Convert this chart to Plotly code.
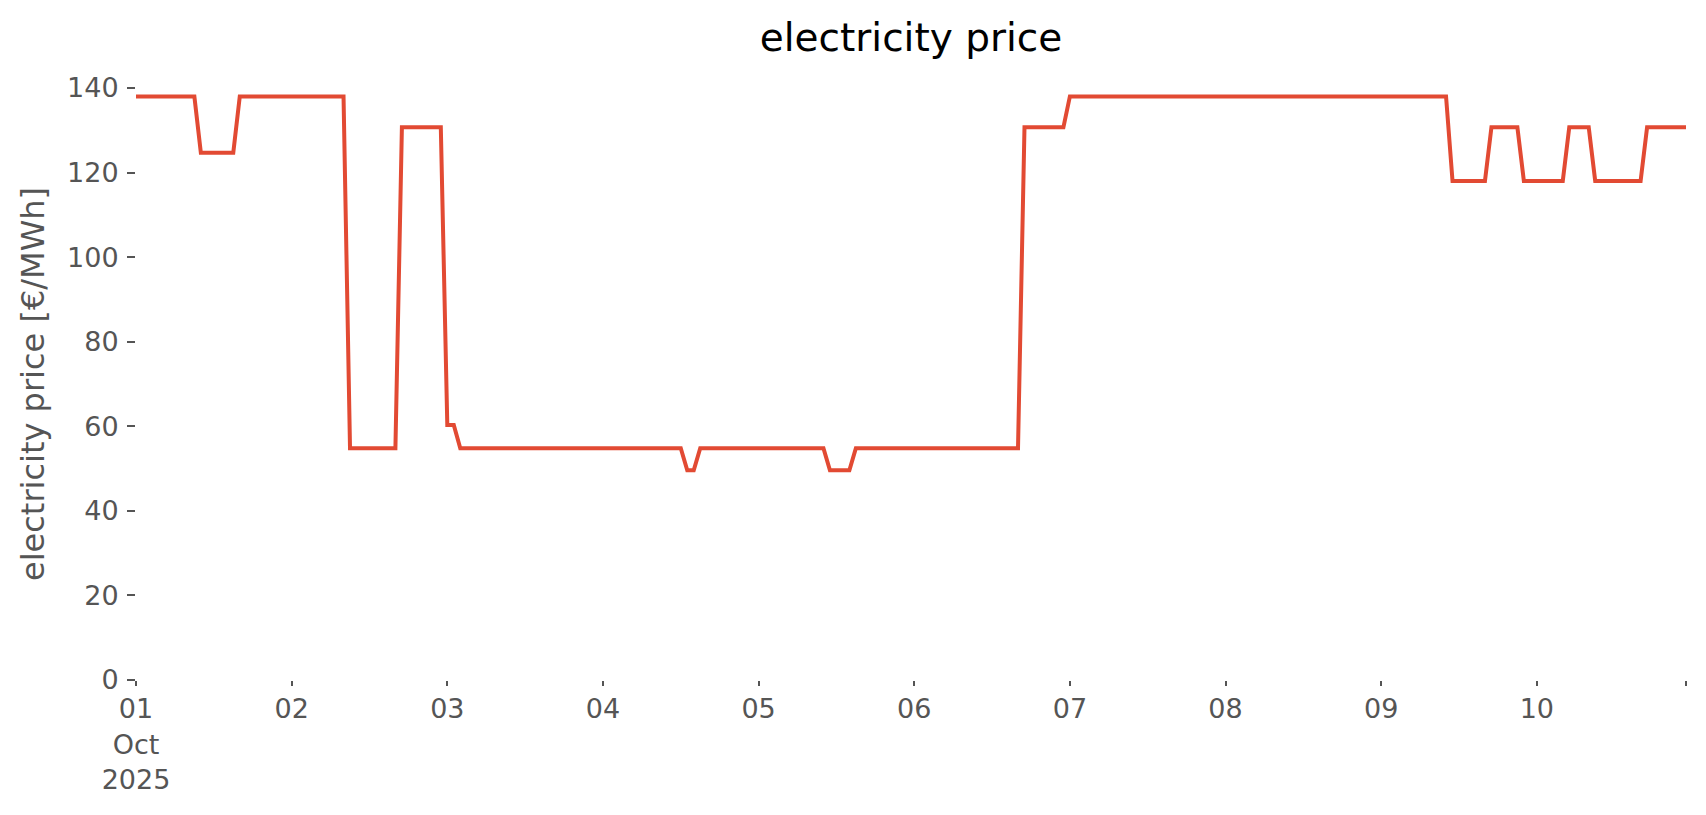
import numpy as np
import pandas as pd
import plotly.graph_objects as go

# Hourly electricity price, run-length encoded (value, number of hours)
run_values = [138.0, 124.7, 138.0, 54.8, 130.7, 60.3, 54.8, 49.6, 54.8, 49.6,
              54.8, 130.7, 138.0, 118.0, 130.7, 118.0, 130.7, 118.0, 130.7]
run_hours = [10, 6, 17, 8, 7, 2, 35, 2, 20, 4, 26, 7, 59, 6, 5, 7, 4, 8, 7]

start = "2025-10-01 00:00"
times = pd.date_range(start, periods=sum(run_hours), freq="h")
prices = np.repeat(run_values, run_hours)

tick_days = pd.date_range("2025-10-01", periods=10, freq="D")
tick_labels = ["01<br>Oct<br>2025", "02", "03", "04", "05", "06", "07", "08", "09", "10"]

y_ticks = [0, 20, 40, 60, 80, 100, 120, 140]

fig = go.Figure()
fig.add_trace(go.Scatter(
    x=times, y=prices, mode="lines",
    line=dict(color="#E24A33", width=4),
    hoverinfo="x+y", showlegend=False,
))

font_family = "DejaVu Sans"
W, H = 1690, 799
fig.update_layout(
    width=W, height=H,
    paper_bgcolor="white", plot_bgcolor="white",
    margin=dict(l=128, r=12, t=80, b=118),
    title=dict(text="electricity price", x=903 / W, xanchor="center",
               y=1 - 29 / H, yanchor="middle",
               font=dict(family=font_family, size=39, color="black")),
    font=dict(family=font_family, color="#555555"),
)

tickvals = list(tick_days) + [times[-1]]
ticktext = tick_labels + [""]

fig.update_xaxes(
    range=[times[0], times[-1]],
    tickmode="array", tickvals=tickvals, ticktext=ticktext,
    ticks="outside", ticklen=5, tickwidth=1.5, tickcolor="#555555",
    tickfont=dict(family=font_family, size=27, color="#555555"),
    ticklabelstandoff=0,
    showgrid=False, zeroline=False, showline=False,
)
fig.update_yaxes(
    range=[0, 140],
    tickmode="array", tickvals=y_ticks,
    ticks="outside", ticklen=8, tickwidth=1.5, tickcolor="#555555",
    tickfont=dict(family=font_family, size=27, color="#555555"),
    ticklabelstandoff=3,
    title=dict(text="electricity price [€/MWh]", standoff=12,
               font=dict(family=font_family, size=32, color="#555555")),
    showgrid=False, zeroline=False, showline=False,
)

fig.write_html("out.html")
